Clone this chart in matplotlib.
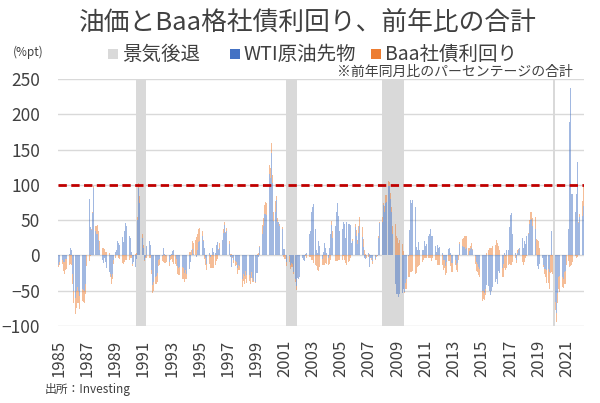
import numpy as np
import matplotlib
matplotlib.use("Agg")
import matplotlib.pyplot as plt
from matplotlib.patches import Rectangle

plt.rcParams['font.family'] = ['Noto Sans CJK JP', 'DejaVu Sans']

# ---- data: monthly, Jan 1985 - Mar 2022 (YoY % change) ----
start_year = 1985
wti_yoy = [
    -14, -9, -8, -6, -10, -9, -5, -5, -3, 2, 10, 7,            # 1985
    -27, -51, -60, -50, -45, -50, -58, -46, -47, -49, -51, -41, # 1986
    0, 30, 80, 40, 36, 60, 95, 35, 30, 30, 22, 8,               # 1987
    -9, -6, -11, -4, -10, -18, -28, -24, -26, -30, -26, -6,     # 1988
    5, 7, 20, 17, 15, 21, 26, 19, 35, 46, 41, 29,               # 1989
    27, 24, 5, -12, -9, -16, -5, 50, 95, 75, 60, 25,            # 1990
    10, -7, -2, 13, 16, 20, 15, -20, -42, -38, -30, -29,        # 1991
    -25, -7, -5, -3, -1, 11, 2, -1, 0, -6, -10, -1,             # 1992
    2, 6, 7, 0, -5, -15, -18, -16, -20, -17, -18, -25,          # 1993
    -21, -26, -28, -19, -10, 0, 9, 2, 0, -2, 8, 19,             # 1994
    20, 25, 27, 21, 10, -4, -12, -2, 4, -2, 0, 10,              # 1995
    5, 3, 15, 19, 8, 11, 23, 22, 32, 43, 32, 34,                # 1996
    33, 16, -2, -17, -2, -6, -8, -10, -18, -14, -15, -28,       # 1997
    -34, -27, -29, -22, -28, -29, -28, -32, -24, -32, -36, -38, # 1998
    -25, -25, -2, 12, 19, 31, 42, 58, 59, 57, 94, 115,          # 1999
    110, 145, 103, 49, 62, 78, 48, 47, 42, 46, 38, 9,           # 2000
    9, 1, -9, 7, -1, -13, -11, -12, -23, -33, -43, -32,         # 2001
    -33, -30, -10, -4, -6, -8, 2, 4, 13, 30, 34, 62,            # 2002
    68, 73, 37, 8, 4, 20, 14, 11, -5, 5, 18, 10,                # 2003
    4, -3, 10, 30, 43, 24, 32, 42, 62, 75, 56, 34,              # 2004
    36, 38, 48, 44, 24, 48, 45, 45, 43, 17, 20, 37,             # 2005
    40, 28, 16, 32, 42, 26, 26, 12, -3, -5, 1, 4,               # 2006
    -17, -4, -4, -8, -11, -5, 0, -1, 25, 46, 60, 48,            # 2007
    71, 61, 75, 76, 98, 98, 80, 61, 30, -11, -40, -55,          # 2008
    -55, -59, -55, -56, -53, -48, -52, -39, -33, -1, 36, 78,    # 2009
    75, 78, 69, 69, 12, 8, 19, 8, 8, 8, 8, 20,                  # 2010
    14, 16, 27, 30, 37, 28, 28, 13, 14, 5, 15, 11,              # 2011
    12, 15, 3, -6, -6, -15, -10, 9, 10, 4, -11, -11,            # 2012
    -5, -7, -13, -11, 0, 16, 19, 13, 12, 12, 9, 11,             # 2013
    0, 6, 9, 11, 8, 10, -1, -9, -12, -16, -19, -39,             # 2014
    -50, -50, -53, -47, -42, -43, -51, -56, -51, -45, -44, -37, # 2015
    -33, -40, -22, -25, -21, -18, -12, 4, -1, 8, 8, 40,         # 2016
    57, 60, 31, 25, 4, -7, 4, 7, 10, 4, 24, 11,                 # 2017
    21, 16, 27, 30, 44, 50, 52, 42, 41, 37, 1, -15,             # 2018
    -19, -12, -7, -4, -13, -19, -19, -20, -19, -24, 0, 34,      # 2019
    0, -14, -66, -82, -53, -30, -29, -23, -31, -34, -24, -22,   # 2020
    1, 37, 189, 237, 87, 87, 84, 61, 87, 133, 46, 55,           # 2021
    69, 56, 70,                                                 # 2022
]
baa_yoy = [
    -3, -4, -3, -6, -12, -17, -16, -14, -14, -14, -12, -13,     # 1985
    -14, -16, -23, -25, -22, -17, -18, -19, -18, -17, -16, -14, # 1986
    -15, -13, -8, -1, 2, 2, 4, 6, 11, 13, 12, 13,               # 1987
    14, 10, 10, 9, 5, 5, 5, 4, -4, -10, -7, -6,                 # 1988
    -4, 0, 1, -3, -5, -9, -11, -12, -9, -6, -6, -8,             # 1989
    -7, -4, -4, -3, 0, 2, 3, 5, 7, 9, 8, 6,                     # 1990
    5, -1, -1, -3, -5, -3, -3, -7, -11, -12, -11, -11,          # 1991
    -13, -8, -8, -7, -7, -9, -11, -10, -9, -7, -5, -5,          # 1992
    -5, -9, -12, -12, -10, -11, -10, -12, -15, -17, -15, -13,   # 1993
    -12, -8, 0, 5, 5, 7, 11, 15, 22, 26, 22, 18,                # 1994
    19, 14, 7, 1, -5, -9, -9, -6, -12, -16, -18, -18,           # 1995
    -18, -14, -8, -5, 1, 6, 4, 0, 5, 4, 1, 5,                   # 1996
    8, 4, 2, 2, -1, -5, -7, -4, -8, -6, -5, -7,                 # 1997
    -11, -9, -11, -12, -11, -11, -8, -9, -8, -5, -1, -1,        # 1998
    1, 2, 3, 2, 6, 12, 11, 14, 16, 17, 11, 13,                  # 1999
    14, 14, 11, 12, 15, 6, 5, 1, 2, 0, 2, -2,                   # 2000
    -5, -5, -6, -4, -9, -6, -5, -5, -4, -5, -6, 0,              # 2001
    -1, 0, 3, 0, 0, 0, -1, -3, -8, -2, -2, -7,                  # 2002
    -7, -11, -14, -15, -21, -22, -16, -8, -8, -13, -13, -11,    # 2003
    -12, -11, -12, -6, 6, 10, 0, -8, -8, -8, -7, -7,            # 2004
    -7, -7, -1, -6, -11, -14, -10, -8, -4, 1, 3, 3,             # 2005
    4, 8, 6, 10, 12, 16, 14, 11, 7, 2, -3, -2,                  # 2006
    2, 0, -2, -4, -5, -1, -2, 1, 2, 1, 3, 7,                    # 2007
    3, 9, 10, 9, 8, 6, 8, 8, 11, 37, 44, 27,                    # 2008
    24, 18, 22, 20, 16, 6, -1, -8, -14, -29, -31, -24,          # 2009
    -23, -22, -26, -26, -25, -17, -15, -14, -10, -9, -6, -4,    # 2010
    -3, -3, -4, -4, -4, -8, -4, -5, -7, -6, -13, -14,           # 2011
    -14, -16, -13, -14, -12, -13, -15, -8, -8, -15, -12, -12,   # 2012
    -10, -6, -7, -12, -7, 3, 9, 10, 13, 16, 19, 16,             # 2013
    10, 5, 4, 7, 1, -8, -11, -13, -12, -12, -11, -12,           # 2014
    -14, -12, -10, -9, 3, 7, 10, 11, 11, 14, 14, 15,            # 2015
    22, 18, 13, 7, -4, -12, -19, -18, -19, -18, -14, -12,       # 2016
    -14, -13, -9, -5, -3, -4, 4, 2, 0, -1, -9, -13,             # 2017
    -9, -3, -1, 2, 6, 11, 9, 11, 13, 17, 22, 22,                # 2018
    20, 11, 4, 1, -4, -8, -11, -19, -20, -23, -25, -24,         # 2019
    -26, -28, -11, -12, -15, -18, -23, -16, -14, -12, -16, -19, # 2020
    -14, -8, -16, -15, -13, -9, -5, -1, -3, -2, 1, 4,           # 2021
    10, 21, 30,                                                 # 2022
]
# recessions (year, month) start-end, inclusive
recessions = [((1990, 7), (1991, 3)), ((2001, 3), (2001, 11)),
              ((2007, 12), (2009, 6)), ((2020, 2), (2020, 2))]
tick_years = list(range(1985, 2022, 2))
ref_level = 100

title = "油価とBaa格社債利回り、前年比の合計"
legend_labels = ["景気後退", "WTI原油先物", "Baa社債利回り"]
note = "※前年同月比のパーセンテージの合計"
unit = "(%pt)"
source = "出所：Investing"

# ---- plotting ----
wti = np.array(wti_yoy, dtype=float)
baa = np.array(baa_yoy, dtype=float)
n = len(wti)
x = np.arange(n)

def idx(ym):
    return (ym[0] - start_year) * 12 + (ym[1] - 1)

C_BLUE = '#4472C4'
C_ORANGE = '#ED7D31'
C_GRAY = '#D9D9D9'
C_TEXT = '#404040'

W, H = 600, 403
fig = plt.figure(figsize=(6.0, 4.03), dpi=100)
ax = fig.add_axes([58 / W, 1 - 326 / H, (584 - 58) / W, (326 - 79) / H])

ax.set_xlim(-0.5, n - 0.5)
ax.set_ylim(-100, 250)

for v in range(-100, 251, 50):
    ax.axhline(v, color='#D9D9D9', lw=1.0, zorder=0)

for s, e in recessions:
    ax.axvspan(idx(s) - 0.5, idx(e) + 0.5, color=C_GRAY, lw=0, zorder=1)

same_sign = np.sign(baa) == np.sign(wti)
baa_bottom = np.where(same_sign, wti, 0.0)

ax.bar(x, wti, width=0.75, color=C_BLUE, alpha=0.5, lw=0, zorder=2)
ax.bar(x, baa, bottom=baa_bottom, width=0.75, color=C_ORANGE, alpha=0.5, lw=0, zorder=2)

ax.axhline(ref_level, color='#C00000', lw=2.0, ls=(0, (3, 1.6)), zorder=3)

for sp in ax.spines.values():
    sp.set_visible(False)

ax.set_yticks(range(-100, 251, 50))
ax.tick_params(axis='y', length=0, pad=13, labelsize=12.5, labelcolor=C_TEXT)
ax.set_xticks([(y - start_year) * 12 for y in tick_years])
ax.set_xticklabels([str(y) for y in tick_years], rotation=90)
ax.tick_params(axis='x', length=0, pad=10, labelsize=12, labelcolor=C_TEXT)

def fx(px):
    return px / W

def fy(py):
    return 1 - py / H

fig.text(fx(308), fy(23), title, ha='center', va='center', fontsize=18.5, color=C_TEXT)

items = [(108, C_GRAY, legend_labels[0]), (230, C_BLUE, legend_labels[1]),
         (371, C_ORANGE, legend_labels[2])]
for px, c, lab in items:
    fig.patches.append(Rectangle((fx(px), fy(59)), 10 / W, 10 / H, transform=fig.transFigure,
                                 color=c, lw=0))
    fig.text(fx(px + 14), fy(54), lab, ha='left', va='center', fontsize=14, color=C_TEXT)

fig.text(fx(573), fy(72), note, ha='right', va='center', fontsize=10, color=C_TEXT)
fig.text(fx(13), fy(52), unit, ha='left', va='center', fontsize=8.5, color=C_TEXT)
fig.text(fx(45), fy(390), source, ha='left', va='center', fontsize=8.5, color=C_TEXT)

fig.savefig('out.png', dpi=100)
